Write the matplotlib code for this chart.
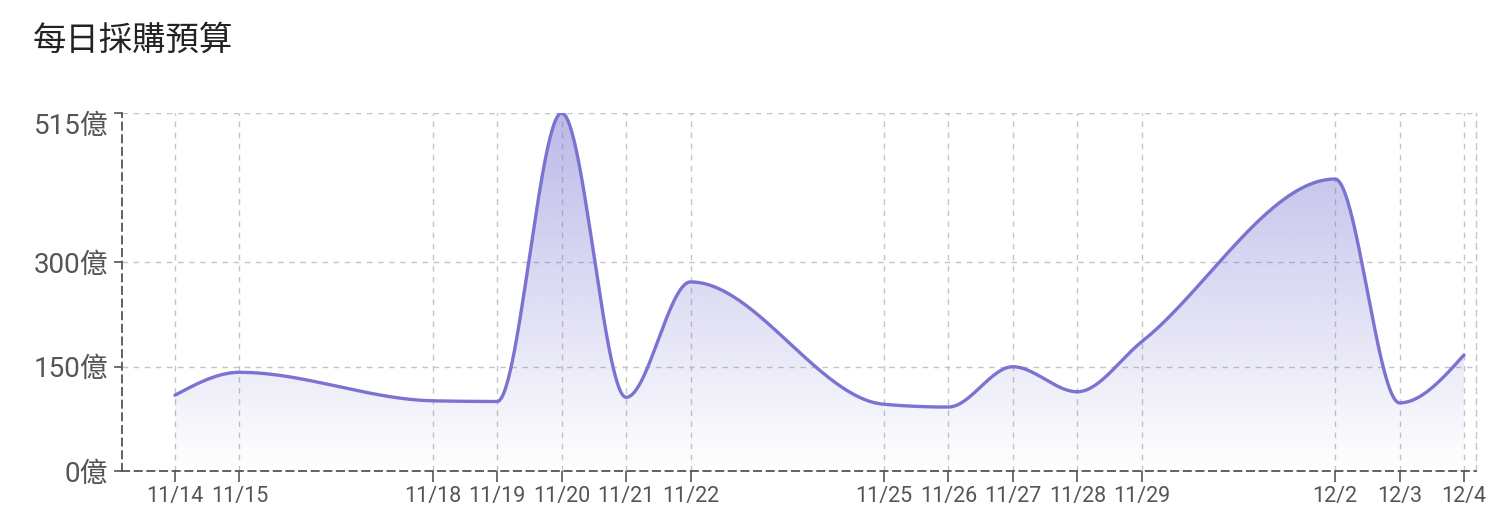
import numpy as np
import matplotlib
matplotlib.use('Agg')
import matplotlib.pyplot as plt
import matplotlib.dates as mdates
from matplotlib.colors import to_rgb
from datetime import date

plt.rcParams['font.family'] = ['Roboto', 'Noto Sans CJK TC', 'DejaVu Sans']

# 資料
fechas = ['2024-11-14', '2024-11-15', '2024-11-18', '2024-11-19', '2024-11-20',
          '2024-11-21', '2024-11-22', '2024-11-25', '2024-11-26', '2024-11-27',
          '2024-11-28', '2024-11-29', '2024-12-02', '2024-12-03', '2024-12-04']
presupuesto = [109, 142, 101, 100, 515, 106, 272, 96, 92, 150, 114, 186, 420, 98, 167]
y_ticks = [0, 150, 300, 515]
titulo = '每日採購預算'

color_linea = '#7a73d1'

dias = [date.fromisoformat(f) for f in fechas]
x = mdates.date2num(dias)
y = np.array(presupuesto, dtype=float)


def monotone_tangentes(x, y):
    # mismas tangentes que d3.curveMonotoneX
    n = len(x)
    t = np.zeros(n)
    h = np.diff(x)
    s = np.diff(y) / h
    for i in range(1, n - 1):
        h0, h1 = h[i - 1], h[i]
        s0, s1 = s[i - 1], s[i]
        p = (s0 * h1 + s1 * h0) / (h0 + h1)
        t[i] = (np.sign(s0) + np.sign(s1)) * min(abs(s0), abs(s1), 0.5 * abs(p))
    t[0] = (3 * s[0] - t[1]) / 2
    t[-1] = (3 * s[-1] - t[-2]) / 2
    return t


def curva(x, y, pasos=60):
    t = monotone_tangentes(x, y)
    xs, ys = [], []
    for i in range(len(x) - 1):
        x0, x1 = x[i], x[i + 1]
        dx = (x1 - x0) / 3
        p0 = np.array([x0, y[i]])
        p1 = np.array([x0 + dx, y[i] + dx * t[i]])
        p2 = np.array([x1 - dx, y[i + 1] - dx * t[i + 1]])
        p3 = np.array([x1, y[i + 1]])
        u = np.linspace(0, 1, pasos)[:, None]
        b = ((1 - u) ** 3) * p0 + 3 * ((1 - u) ** 2) * u * p1 + 3 * (1 - u) * u ** 2 * p2 + u ** 3 * p3
        xs.extend(b[:, 0])
        ys.extend(b[:, 1])
    return np.array(xs), np.array(ys)


xc, yc = curva(x, y)

fig = plt.figure(figsize=(15, 5.2), dpi=100)
ax = fig.add_axes([0.0813, 0.0942, 0.9027, 0.6885])

x_min = x[0] - 0.822
x_max = x[-1] + 0.186
ax.set_xlim(x_min, x_max)
ax.set_ylim(0, 515)

# relleno con degradado
poly = ax.fill_between(xc, yc, 0, color='none', lw=0)
rgb = to_rgb(color_linea)
grad = np.zeros((256, 1, 4))
grad[:, 0, :3] = rgb
grad[:, 0, 3] = np.linspace(0.5, 0.0, 256)
img = ax.imshow(grad, extent=[x[0], x[-1], 0, 515], origin='upper',
                aspect='auto', zorder=1, interpolation='bilinear')
path = poly.get_paths()[0]
img.set_clip_path(path, transform=ax.transData)

ax.plot(xc, yc, color=color_linea, lw=2.4, zorder=3, solid_capstyle='round')

# ejes y grilla
ax.set_xticks(x)
ax.set_xticklabels([f'{d.month}/{d.day}' for d in dias])
ax.set_yticks(y_ticks)
ax.set_yticklabels([f'{v}億' for v in y_ticks])
ax.grid(True, linestyle=(0, (4, 4)), color='#c4c4c4', lw=1)
ax.set_axisbelow(True)

for lado in ['left', 'bottom']:
    ax.spines[lado].set_linestyle((0, (4, 3)))
    ax.spines[lado].set_color('#555555')
    ax.spines[lado].set_linewidth(1.3)
ax.spines['top'].set_visible(False)
ax.spines['right'].set_linestyle((0, (4, 4)))
ax.spines['right'].set_color('#c4c4c4')
ax.spines['right'].set_linewidth(1)

ax.tick_params(axis='y', labelsize=20, colors='#555555', length=6, width=1.2, pad=4)
ax.tick_params(axis='x', labelsize=15.5, colors='#555555', length=8, width=1.2, pad=3)

# la etiqueta superior queda dentro del área
ax.get_yticklabels()[-1].set_va('top')
ax.get_yticklabels()[-1].set_y(515)

fig.text(0.022, 0.922, titulo, fontsize=24, color='#222222',
         family=['Noto Sans CJK TC', 'DejaVu Sans'], va='center', ha='left')

fig.savefig('out.png', dpi=100, facecolor='white')
